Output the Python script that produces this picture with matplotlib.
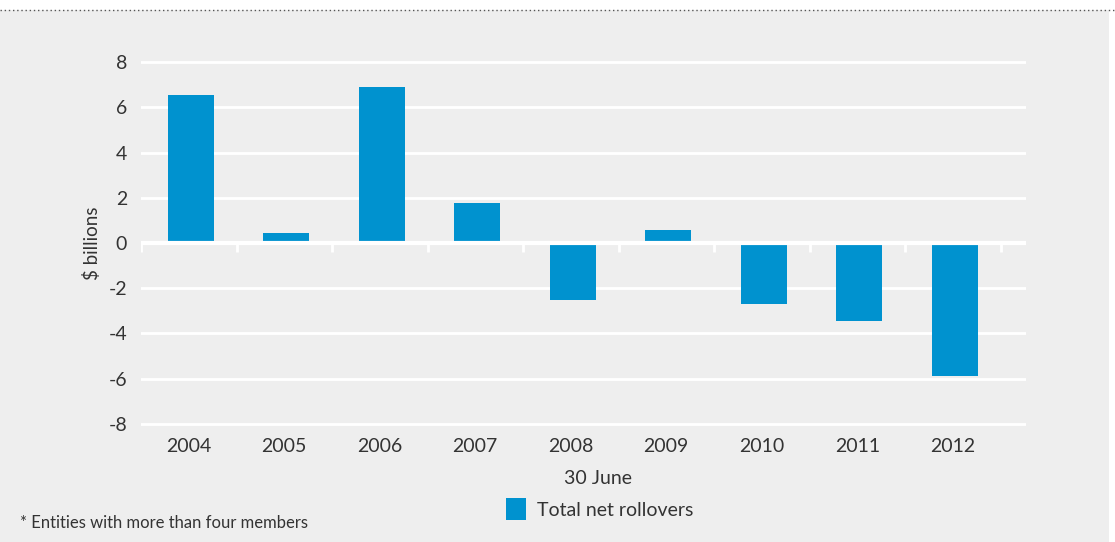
import matplotlib
matplotlib.use("Agg")
import matplotlib.pyplot as plt
from matplotlib.patches import Rectangle
import numpy as np

# net rollovers by year ($ billions)
years = ['2004', '2005', '2006', '2007', '2008', '2009', '2010', '2011', '2012']
net_rollovers = [6.55, 0.45, 6.9, 1.78, -2.5, 0.58, -2.68, -3.45, -5.88]
y_ticks = [-8, -6, -4, -2, 0, 2, 4, 6, 8]

bar_color = '#0092cf'
bg = '#eeeeee'
text_color = '#333333'

plt.rcParams['font.family'] = ['Lato', 'DejaVu Sans']
plt.rcParams['axes.unicode_minus'] = False

fig = plt.figure(figsize=(11.15, 5.42), dpi=100)
fig.patch.set_facecolor('white')

# grey panel under the dotted rule
fig.add_artist(Rectangle((0, 0), 1109 / 1115, 1 - 10 / 542, transform=fig.transFigure,
                         facecolor=bg, edgecolor='none', zorder=-10))
fig.add_artist(plt.Line2D([0, 1], [1 - 10 / 542, 1 - 10 / 542], transform=fig.transFigure,
                          color='#555555', linestyle=(0, (1, 2)), linewidth=1, zorder=-9))

ax = fig.add_axes([141 / 1115, 0.2094, 0.794, 0.6845])
ax.set_facecolor(bg)

x = np.arange(len(years))
ax.bar(x + 0.02, net_rollovers, width=0.48, color=bar_color, zorder=2)

ax.set_xlim(-0.5, len(years) - 0.5 + 0.27)
ax.set_ylim(-8.2, 8.2)
ax.set_yticks(y_ticks)
ax.yaxis.grid(True, color='white', linewidth=2)
ax.set_axisbelow(True)

# zero line with white category separators hanging below it
ax.axhline(0, color='white', linewidth=3, zorder=3)
bounds = np.arange(len(years) + 1) - 0.5
ax.vlines(bounds, -0.4, 0, color='white', linewidth=2, zorder=3)

ax.set_xticks(x)
ax.set_xticklabels(years)
ax.tick_params(axis='both', length=0, labelsize=14, colors=text_color)
ax.tick_params(axis='y', pad=10)
ax.tick_params(axis='x', pad=7)
for s in ax.spines.values():
    s.set_visible(False)

ax.set_ylabel('$ billions', fontsize=13.5, color=text_color)
ax.yaxis.set_label_coords(-0.045, 0.5)
ax.set_xlabel('30 June', fontsize=14, color=text_color)
ax.xaxis.set_label_coords(0.516, -0.112)

handle = Rectangle((0, 0), 1, 1, facecolor=bar_color, edgecolor='none')
fig.legend([handle], ['Total net rollovers'], loc='center',
           bbox_to_anchor=(600 / 1115, 1 - 509 / 542), frameon=False,
           fontsize=14, handlelength=1.0, handleheight=1.3, handletextpad=0.6,
           labelcolor=text_color)

fig.text(20 / 1115, 1 - 523 / 542, '* Entities with more than four members',
         fontsize=12, color=text_color, va='center', ha='left')

fig.savefig('out.png', dpi=100, facecolor=fig.get_facecolor())
